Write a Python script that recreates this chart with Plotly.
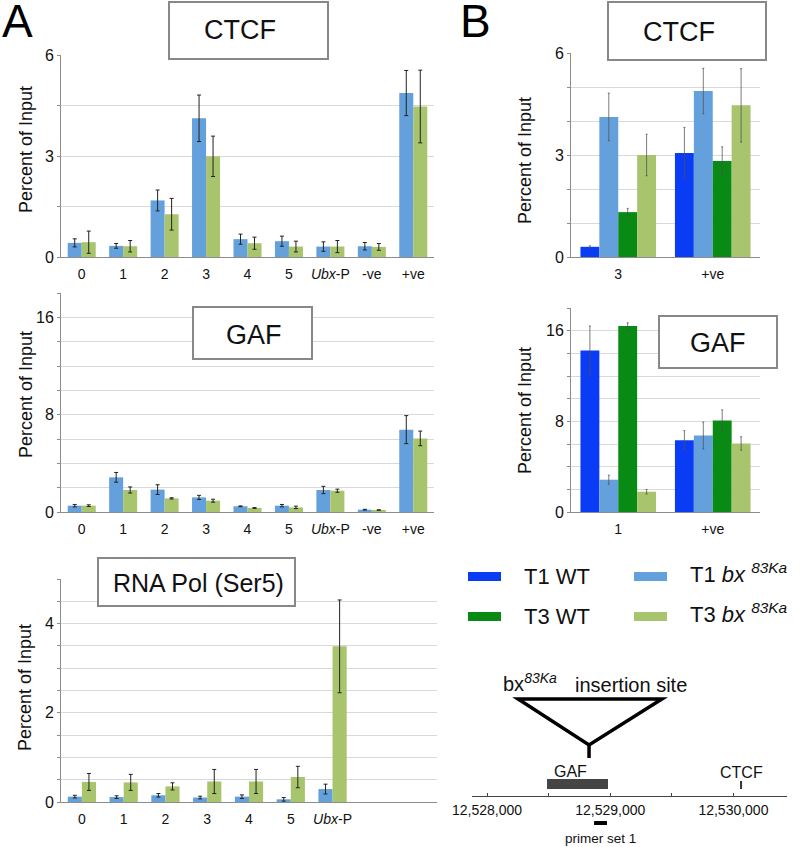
import plotly.graph_objects as go

W, H = 800, 847

# ---------------- data ----------------
categories_A = ["0", "1", "2", "3", "4", "5", "Ubx-P", "-ve", "+ve"]
category_labels_A = ["0", "1", "2", "3", "4", "5", "<i>Ubx</i>-P", "-ve", "+ve"]

ctcf_A_T1bx = [0.42, 0.33, 1.68, 4.12, 0.53, 0.47, 0.31, 0.32, 4.87]
ctcf_A_T1bx_err = [0.12, 0.07, 0.31, 0.69, 0.15, 0.15, 0.14, 0.11, 0.67]
ctcf_A_T3bx = [0.44, 0.32, 1.27, 2.99, 0.41, 0.31, 0.31, 0.30, 4.47]
ctcf_A_T3bx_err = [0.33, 0.17, 0.47, 0.60, 0.18, 0.16, 0.18, 0.10, 1.08]

gaf_A_T1bx = [0.52, 2.85, 1.84, 1.20, 0.47, 0.52, 1.81, 0.19, 6.77]
gaf_A_T1bx_err = [0.10, 0.40, 0.40, 0.17, 0.03, 0.10, 0.30, 0.03, 1.15]
gaf_A_T3bx = [0.52, 1.81, 1.12, 0.93, 0.33, 0.38, 1.75, 0.16, 6.05]
gaf_A_T3bx_err = [0.07, 0.25, 0.05, 0.12, 0.03, 0.10, 0.13, 0.02, 0.60]

pol_categories_A = ["0", "1", "2", "3", "4", "5", "Ubx-P"]
pol_A_T1bx = [0.12, 0.11, 0.15, 0.10, 0.12, 0.06, 0.29]
pol_A_T1bx_err = [0.03, 0.03, 0.04, 0.03, 0.04, 0.04, 0.11]
pol_A_T3bx = [0.45, 0.44, 0.35, 0.46, 0.46, 0.56, 3.49]
pol_A_T3bx_err = [0.19, 0.18, 0.08, 0.27, 0.27, 0.24, 1.04]

series_names = ["T1 WT", "T1 <i>bx</i> <sup><i>83Ka</i></sup>",
                "T3 WT", "T3 <i>bx</i> <sup><i>83Ka</i></sup>"]
series_colors = ["#0b3cf5", "#64a0dc", "#088a14", "#a8c46c"]

categories_B_ctcf = ["3", "+ve"]
ctcf_B_T1WT = [0.30, 3.06]
ctcf_B_T1WT_err = [0.03, 0.75]
ctcf_B_T1bx = [4.12, 4.88]
ctcf_B_T1bx_err = [0.70, 0.67]
ctcf_B_T3WT = [1.32, 2.82]
ctcf_B_T3WT_err = [0.11, 0.42]
ctcf_B_T3bx = [3.00, 4.46]
ctcf_B_T3bx_err = [0.61, 1.08]

categories_B_gaf = ["1", "+ve"]
gaf_B_T1WT = [14.24, 6.34]
gaf_B_T1WT_err = [2.17, 0.84]
gaf_B_T1bx = [2.85, 6.75]
gaf_B_T1bx_err = [0.40, 1.19]
gaf_B_T3WT = [16.41, 8.07]
gaf_B_T3WT_err = [0.28, 0.94]
gaf_B_T3bx = [1.79, 6.05]
gaf_B_T3bx_err = [0.20, 0.59]

# genomic map (bp)
diagram_range_bp = [12527878, 12530435]
axis_ticks_bp = [12528000, 12529000, 12530000]
gaf_site_bp = [12528487, 12528982]
ctcf_site_bp = 12530062
insertion_bp = 12528828
insertion_triangle_bp = [12528252, 12529420]
primer1_bp = [12528869, 12528974]

FONT = "Liberation Sans, Arial, Helvetica, sans-serif"


def fx(px):
    return px / W


def fy(py):
    return 1 - py / H


GRID = "#d9d9d9"
AXIS = "#8c8c8c"


def yaxis(anchor, top, bottom, rng, grid_vals, label_vals):
    return dict(domain=[fy(bottom), fy(top)], anchor=anchor, range=rng,
                tickvals=label_vals, ticktext=["%g" % v for v in label_vals],
                showgrid=True, gridcolor=GRID, gridwidth=1, showline=True,
                linecolor=AXIS, linewidth=1, ticks="outside", ticklen=3,
                tickcolor=AXIS, tickfont=dict(size=16, color="#111", family=FONT),
                minor=dict(tickvals=grid_vals, showgrid=True, gridcolor=GRID,
                           gridwidth=1, ticks="outside", ticklen=3, tickcolor=AXIS),
                zeroline=False)


def xaxis(left, right, anchor, cats, labels):
    return dict(domain=[fx(left), fx(right)], anchor=anchor, type="category",
                categoryarray=cats, categoryorder="array",
                range=[-0.5, len(cats) - 0.5], tickvals=cats[:len(labels)],
                ticktext=labels, showline=True, linecolor=AXIS, linewidth=1,
                ticks="", showgrid=False, zeroline=False,
                tickfont=dict(size=14, color="#111", family=FONT),
                ticklabelstandoff=4)


fig = go.Figure()

errA = dict(color="#222", thickness=1, width=2)
errB = dict(color="rgba(80,80,80,0.75)", thickness=1, width=1)


def add_bar(x, y, err, color, xa, ya, offset, width, es):
    fig.add_trace(go.Bar(
        x=x, y=y,
        error_y=dict(type="data", array=err, visible=True, **es),
        marker=dict(color=color, line=dict(width=0)),
        offset=offset, width=width, xaxis=xa, yaxis=ya, showlegend=False,
        hoverinfo="x+y"))


wA = 0.338
# Panel A
add_bar(categories_A, ctcf_A_T1bx, ctcf_A_T1bx_err, series_colors[1], "x", "y", -wA, wA, errA)
add_bar(categories_A, ctcf_A_T3bx, ctcf_A_T3bx_err, series_colors[3], "x", "y", 0, wA, errA)
add_bar(categories_A, gaf_A_T1bx, gaf_A_T1bx_err, series_colors[1], "x2", "y2", -wA, wA, errA)
add_bar(categories_A, gaf_A_T3bx, gaf_A_T3bx_err, series_colors[3], "x2", "y2", 0, wA, errA)
add_bar(pol_categories_A, pol_A_T1bx, pol_A_T1bx_err, series_colors[1], "x3", "y3", -wA, wA, errA)
add_bar(pol_categories_A, pol_A_T3bx, pol_A_T3bx_err, series_colors[3], "x3", "y3", 0, wA, errA)

# Panel B
wB = 0.2
ctcf_B = [(ctcf_B_T1WT, ctcf_B_T1WT_err), (ctcf_B_T1bx, ctcf_B_T1bx_err),
          (ctcf_B_T3WT, ctcf_B_T3WT_err), (ctcf_B_T3bx, ctcf_B_T3bx_err)]
gaf_B = [(gaf_B_T1WT, gaf_B_T1WT_err), (gaf_B_T1bx, gaf_B_T1bx_err),
         (gaf_B_T3WT, gaf_B_T3WT_err), (gaf_B_T3bx, gaf_B_T3bx_err)]
for i, (vals, errs) in enumerate(ctcf_B):
    add_bar(categories_B_ctcf, vals, errs, series_colors[i], "x4", "y4", -0.4 + i * wB, wB, errB)
for i, (vals, errs) in enumerate(gaf_B):
    add_bar(categories_B_gaf, vals, errs, series_colors[i], "x5", "y5", -0.4 + i * wB, wB, errB)

# diagram axis anchor trace (invisible)
fig.add_trace(go.Scatter(x=diagram_range_bp, y=[0, 0], mode="markers",
                         marker=dict(opacity=0), xaxis="x6", yaxis="y6",
                         showlegend=False, hoverinfo="skip"))

AL, AR = 61, 434
BL, BR = 571, 760

layout = dict(
    width=W, height=H, margin=dict(l=0, r=0, t=0, b=0, autoexpand=False),
    paper_bgcolor="white", plot_bgcolor="white", barmode="overlay",
    font=dict(family=FONT, color="#111"), showlegend=False,
    xaxis=xaxis(AL, AR, "y", categories_A, category_labels_A),
    yaxis=yaxis("x", 55, 257, [0, 6], [1.5, 4.5], [0, 3, 6]),
    xaxis2=xaxis(AL, AR, "y2", categories_A, category_labels_A),
    yaxis2=yaxis("x2", 293, 512, [0, 18], [2, 4, 6, 10, 12, 14, 18], [0, 8, 16]),
    xaxis3=xaxis(AL, 437, "y3", categories_A, category_labels_A[:7]),
    yaxis3=yaxis("x3", 579, 802, [0, 5], [0.5, 1, 1.5, 2.5, 3, 3.5, 4.5, 5], [0, 2, 4]),
    xaxis4=xaxis(BL, BR, "y4", categories_B_ctcf, categories_B_ctcf),
    yaxis4=yaxis("x4", 53, 257, [0, 6], [1, 2, 4, 5], [0, 3, 6]),
    xaxis5=xaxis(BL, BR, "y5", categories_B_gaf, categories_B_gaf),
    yaxis5=yaxis("x5", 308, 512, [0, 18], [2, 4, 6, 10, 12, 14, 18], [0, 8, 16]),
    xaxis6=dict(domain=[fx(472), fx(787)], anchor="y6", type="linear",
                range=diagram_range_bp, showline=True, linecolor="#444",
                linewidth=1, ticks="inside", ticklen=3, tickcolor="#444",
                tickvals=axis_ticks_bp, ticktext=[f"{v:,}" for v in axis_ticks_bp],
                minor=dict(dtick=500, tick0=axis_ticks_bp[0], ticks="inside",
                           ticklen=3, tickcolor="#444"),
                showgrid=False, zeroline=False, ticklabelstandoff=1,
                tickfont=dict(size=14, color="#111", family=FONT)),
    yaxis6=dict(domain=[fy(796), fy(700)], anchor="x6", range=[0, 1], visible=False),
)
fig.update_layout(**layout)

shapes = []
annotations = []

# Titles in boxes
boxes = [
    ("CTCF", (169, 2, 328, 59), 240, 30, 27),
    ("GAF", (193, 307, 312, 359), 254, 335, 27),
    ("RNA Pol (Ser5)", (98, 558, 295, 606), 198, 583, 25),
    ("CTCF", (608, 2, 766, 60), 679, 32, 27),
    ("GAF", (659, 316, 777, 368), 718, 343, 27),
]
for text, (x0, y0, x1, y1), tx, ty, size in boxes:
    shapes.append(dict(type="rect", xref="paper", yref="paper", x0=fx(x0), x1=fx(x1),
                       y0=fy(y1), y1=fy(y0), line=dict(color="#888", width=2),
                       fillcolor="white", layer="above"))
    annotations.append(dict(text=text, xref="paper", yref="paper", x=fx(tx), y=fy(ty),
                            showarrow=False, xanchor="center", yanchor="middle",
                            font=dict(size=size, color="#111", family=FONT)))

# y titles
for x, y in [(26, 150), (26, 395), (25, 688), (525, 161), (525, 411)]:
    annotations.append(dict(text="Percent of Input", textangle=-90, xref="paper",
                            yref="paper", x=fx(x), y=fy(y), showarrow=False,
                            xanchor="center", yanchor="middle",
                            font=dict(size=18, color="#111", family=FONT)))

# panel letters
annotations.append(dict(text="A", xref="paper", yref="paper", x=fx(0), y=fy(21),
                        showarrow=False, xanchor="left", yanchor="middle",
                        font=dict(size=46, color="#000", family=FONT)))
annotations.append(dict(text="B", xref="paper", yref="paper", x=fx(458), y=fy(21),
                        showarrow=False, xanchor="left", yanchor="middle",
                        font=dict(size=46, color="#000", family=FONT)))

# legend
leg_rows = [576, 616]
leg_swatch_x = [468, 634]
leg_text_x = [522, 688]
for i, (name, color) in enumerate(zip(series_names, series_colors)):
    r, c = divmod(i, 2)
    yc = leg_rows[r]
    shapes.append(dict(type="rect", xref="paper", yref="paper",
                       x0=fx(leg_swatch_x[c]), x1=fx(leg_swatch_x[c] + 33),
                       y0=fy(yc + 5), y1=fy(yc - 4), fillcolor=color,
                       line=dict(width=0)))
    annotations.append(dict(text=name, xref="paper", yref="paper",
                            x=fx(leg_text_x[c]), y=fy(yc + (-3 if c == 1 else 0)),
                            showarrow=False, xanchor="left", yanchor="middle",
                            font=dict(size=22, color="#111", family=FONT)))

# genomic diagram
tri_top, tri_bot, stem_bot = 699, 745, 758
shapes.append(dict(type="path", xref="x6", yref="paper",
                   path=(f"M {insertion_triangle_bp[0]},{fy(tri_top)} "
                         f"L {insertion_triangle_bp[1]},{fy(tri_top)} "
                         f"L {insertion_bp},{fy(tri_bot)} Z"),
                   line=dict(color="#000", width=3.5)))
shapes.append(dict(type="line", xref="x6", yref="paper", x0=insertion_bp, x1=insertion_bp,
                   y0=fy(tri_bot), y1=fy(stem_bot), line=dict(color="#000", width=3.5)))
shapes.append(dict(type="rect", xref="x6", yref="paper", x0=gaf_site_bp[0], x1=gaf_site_bp[1],
                   y0=fy(789), y1=fy(779), fillcolor="#454545", line=dict(width=0)))
shapes.append(dict(type="line", xref="x6", yref="paper", x0=ctcf_site_bp, x1=ctcf_site_bp,
                   y0=fy(789), y1=fy(781), line=dict(color="#333", width=2)))
shapes.append(dict(type="rect", xref="x6", yref="paper", x0=primer1_bp[0], x1=primer1_bp[1],
                   y0=fy(825), y1=fy(821), fillcolor="#000", line=dict(width=0)))

annotations.append(dict(text="GAF", xref="x6", yref="paper",
                        x=(gaf_site_bp[0] + gaf_site_bp[1]) / 2 - 60, y=fy(771),
                        showarrow=False, xanchor="center", yanchor="middle",
                        font=dict(size=16, color="#111", family=FONT)))
annotations.append(dict(text="CTCF", xref="x6", yref="paper", x=ctcf_site_bp, y=fy(772),
                        showarrow=False, xanchor="center", yanchor="middle",
                        font=dict(size=16, color="#111", family=FONT)))
annotations.append(dict(text="primer set 1", xref="x6", yref="paper",
                        x=(primer1_bp[0] + primer1_bp[1]) / 2, y=fy(838),
                        showarrow=False, xanchor="center", yanchor="middle",
                        font=dict(size=13.5, color="#111", family=FONT)))
annotations.append(dict(text="bx<sup><i>83Ka</i></sup>", xref="paper", yref="paper",
                        x=fx(501), y=fy(697), showarrow=False, xanchor="left",
                        yanchor="bottom", font=dict(size=20, color="#111", family=FONT)))
annotations.append(dict(text="insertion site", xref="paper", yref="paper",
                        x=fx(631), y=fy(685), showarrow=False, xanchor="center",
                        yanchor="middle", font=dict(size=20, color="#111", family=FONT)))

fig.update_layout(shapes=shapes, annotations=annotations)

fig.write_html("out.html", config={"displayModeBar": False},
               post_script="document.body.style.margin='0';document.body.style.overflow='hidden';")
